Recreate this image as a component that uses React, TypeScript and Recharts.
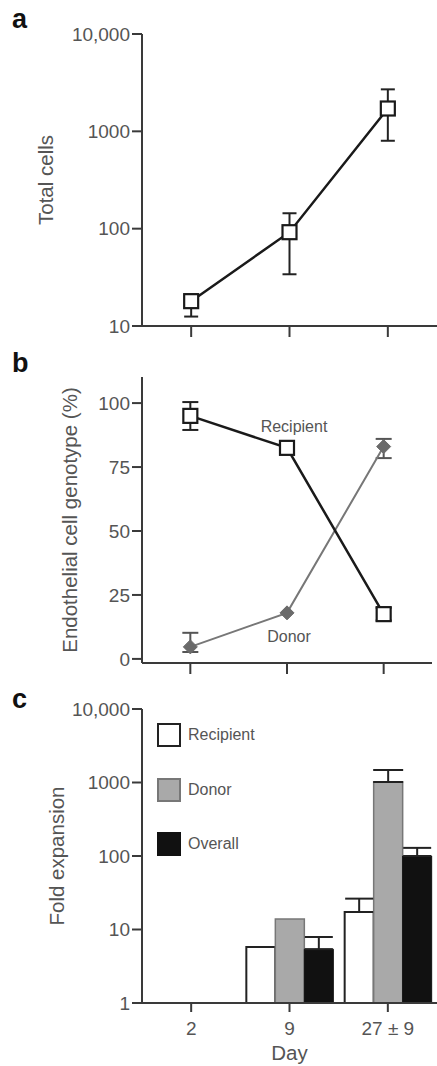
import React from 'react';
import {
  LineChart,
  Line,
  XAxis,
  YAxis,
  ComposedChart,
  Bar,
  ErrorBar,
  LabelList,
  Legend,
} from 'recharts';

// shared x positions (day 2, day 9, day 27 ± 9)
const dayIndex = [0, 1, 2];
const dayLabels = ['2', '9', '27 ± 9'];

// panel a: total cells (log)
const totalCells = [18, 92, 1716];
const totalCellsErr = [[5.5, 3], [58, 52], [916, 984]];
const logTicks = [10, 100, 1000, 10000];

// panel b: endothelial cell genotype (%)
const recipientPct = [95, 82.5, 17.5];
const recipientPctErr = [[5.5, 5.4], null, [2.5, 2.5]];
const donorPct = [4.7, 18, 83];
const donorPctErr = [[2, 5.5], null, [4.5, 3]];
const recipientNote = [null, 'Recipient', null];
const donorNote = [null, 'Donor', null];
const pctTicks = [0, 25, 50, 75, 100];

// panel c: fold expansion (log)
const recipientFold = [1, 5.8, 17.3];
const recipientFoldErr = [null, null, [0, 9]];
const donorFold = [1, 13.9, 1016];
const donorFoldErr = [null, null, [0, 464]];
const overallFold = [1, 5.4, 100];
const overallFoldErr = [null, [0, 2.5], [0, 29]];
const foldTicks = [1, 10, 100, 1000, 10000];
const legendNames = ['Recipient', 'Donor', 'Overall'];

const FONT = '"Liberation Sans", Arial, Helvetica, sans-serif';
const AXIS = '#3a3a3a';
const TEXT = '#555';
const tickStyle = { fontSize: 19, fill: TEXT, fontFamily: FONT };
const axisLabelStyle = { fontSize: 20.5, fill: TEXT, fontFamily: FONT, textAnchor: 'middle' as const };

const fmtLog = (v: number) => (v === 10000 ? '10,000' : String(v));

const dataA = dayIndex.map((x, i) => ({ x, total: totalCells[i], err: totalCellsErr[i] }));
const dataB = dayIndex.map((x, i) => ({
  x,
  recipient: recipientPct[i],
  recipientErr: recipientPctErr[i],
  donor: donorPct[i],
  donorErr: donorPctErr[i],
  recipientNote: recipientNote[i],
  donorNote: donorNote[i],
}));
const dataC = dayLabels.map((day, i) => ({
  day,
  recipient: recipientFold[i],
  recipientErr: recipientFoldErr[i],
  donor: donorFold[i],
  donorErr: donorFoldErr[i],
  overall: overallFold[i],
  overallErr: overallFoldErr[i],
}));

const squareDot = (stroke: string) => (props: any) => {
  const { cx, cy, index } = props;
  return (
    <rect key={`sq-${index}`} x={cx - 7} y={cy - 7} width={14} height={14}
      fill="#fff" stroke={stroke} strokeWidth={2.2} />
  );
};

const diamondDot = (props: any) => {
  const { cx, cy, index } = props;
  return (
    <polygon key={`dm-${index}`}
      points={`${cx},${cy - 7} ${cx + 7},${cy} ${cx},${cy + 7} ${cx - 7},${cy}`}
      fill="#6a6a6a" stroke="#6a6a6a" strokeWidth={1} />
  );
};

const note = (dy: number, dx: number) => (props: any) => {
  const { x, y, value } = props;
  if (!value) return null;
  return (
    <text x={x + dx} y={y + dy} textAnchor="middle" fontSize={16} fill={TEXT} fontFamily={FONT}>
      {value}
    </text>
  );
};

const fillFor: Record<string, string> = { Recipient: '#fff', Donor: '#a9a9a9', Overall: '#111' };
const strokeFor: Record<string, string> = { Recipient: '#222', Donor: '#777', Overall: '#111' };

const FoldLegend = () => (
  <div style={{ fontFamily: FONT }}>
    {legendNames.map(name => (
      <div key={name} style={{ display: 'flex', alignItems: 'center', height: 24, marginBottom: 30.5 }}>
        <span style={{
          width: 20, height: 20, background: fillFor[name],
          border: `2px solid ${strokeFor[name]}`, display: 'inline-block',
        }} />
        <span style={{ marginLeft: 7, fontSize: 16, color: TEXT }}>{name}</span>
      </div>
    ))}
  </div>
);

const PanelLetter = ({ ch, top }: { ch: string; top: number }) => (
  <div style={{
    position: 'absolute', left: 12, top, fontSize: 27, fontWeight: 'bold',
    fontFamily: FONT, color: '#111', lineHeight: 1,
  }}>{ch}</div>
);

export default function App() {
  return (
    <div style={{ position: 'absolute', left: 0, top: 0, width: 437, height: 1066, background: '#fff' }}>
      <PanelLetter ch="a" top={6} />
      <PanelLetter ch="b" top={350} />
      <PanelLetter ch="c" top={686} />

      {/* a */}
      <div style={{ position: 'absolute', left: 0, top: 0 }}>
        <LineChart width={437} height={345} data={dataA} margin={{ top: 34, right: 0, bottom: 0, left: 0 }}>
          <XAxis dataKey="x" type="number" domain={[-0.5, 2.5]} ticks={dayIndex}
            height={19} tickSize={11} tickFormatter={() => ''}
            axisLine={{ stroke: AXIS, strokeWidth: 2 }} tickLine={{ stroke: AXIS, strokeWidth: 2 }} />
          <YAxis scale="log" domain={[10, 10000]} ticks={logTicks} allowDataOverflow width={142}
            tickFormatter={fmtLog} tick={tickStyle} tickSize={10} tickMargin={2}
            axisLine={{ stroke: AXIS, strokeWidth: 2 }} tickLine={{ stroke: AXIS, strokeWidth: 2 }}
            label={{ value: 'Total cells', angle: -90, position: 'insideLeft', offset: 46, style: axisLabelStyle }} />
          <Line dataKey="total" stroke="#1a1a1a" strokeWidth={2.5} dot={squareDot('#1a1a1a')}
            isAnimationActive={false}>
            <ErrorBar dataKey="err" width={7} stroke="#222" strokeWidth={2} />
          </Line>
        </LineChart>
      </div>

      {/* b */}
      <div style={{ position: 'absolute', left: 0, top: 340 }}>
        <LineChart width={437} height={345} data={dataB} margin={{ top: 37, right: 5, bottom: 0, left: 0 }}>
          <XAxis dataKey="x" type="number" domain={[-0.5, 2.5]} ticks={dayIndex}
            height={22} tickSize={11} tickFormatter={() => ''}
            axisLine={{ stroke: AXIS, strokeWidth: 2 }} tickLine={{ stroke: AXIS, strokeWidth: 2 }} />
          <YAxis domain={[-1.6, 110.2]} ticks={pctTicks} allowDataOverflow width={142}
            tick={tickStyle} tickSize={10} tickMargin={2}
            axisLine={{ stroke: AXIS, strokeWidth: 2 }} tickLine={{ stroke: AXIS, strokeWidth: 2 }}
            label={{ value: 'Endothelial cell genotype (%)', angle: -90, position: 'insideLeft', offset: 70, style: axisLabelStyle }} />
          <Line dataKey="donor" stroke="#777" strokeWidth={2} dot={diamondDot} isAnimationActive={false}>
            <ErrorBar dataKey="donorErr" width={8} stroke="#555" strokeWidth={2} />
            <LabelList dataKey="donorNote" content={note(29, 2)} />
          </Line>
          <Line dataKey="recipient" stroke="#1a1a1a" strokeWidth={2.5} dot={squareDot('#1a1a1a')}
            isAnimationActive={false}>
            <ErrorBar dataKey="recipientErr" width={8} stroke="#222" strokeWidth={2} />
            <LabelList dataKey="recipientNote" content={note(-16, 7)} />
          </Line>
        </LineChart>
      </div>

      {/* c */}
      <div style={{ position: 'absolute', left: 0, top: 680 }}>
        <ComposedChart width={437} height={386} data={dataC} barCategoryGap={6} barGap={0}
          margin={{ top: 29, right: 0, bottom: 0, left: 0 }}>
          <XAxis dataKey="day" height={63} tickSize={9} tickMargin={10} tick={tickStyle}
            axisLine={{ stroke: AXIS, strokeWidth: 2 }} tickLine={{ stroke: AXIS, strokeWidth: 2 }}
            label={{ value: 'Day', position: 'insideBottom', offset: 6, style: axisLabelStyle }} />
          <YAxis scale="log" domain={[1, 10000]} ticks={foldTicks} allowDataOverflow width={142}
            tickFormatter={fmtLog} tick={tickStyle} tickSize={10} tickMargin={2}
            axisLine={{ stroke: AXIS, strokeWidth: 2 }} tickLine={{ stroke: AXIS, strokeWidth: 2 }}
            label={{ value: 'Fold expansion', angle: -90, position: 'insideLeft', offset: 57, style: axisLabelStyle }} />
          <Legend layout="vertical" align="center" verticalAlign="middle"
            wrapperStyle={{ left: 157, top: 43, width: 140 }} content={() => <FoldLegend />} />
          <Bar dataKey="recipient" name="Recipient" fill="#fff" stroke="#222" strokeWidth={2} isAnimationActive={false}>
            <ErrorBar dataKey="recipientErr" width={14} stroke="#222" strokeWidth={2} />
          </Bar>
          <Bar dataKey="donor" name="Donor" fill="#a9a9a9" stroke="#777" strokeWidth={1.5} isAnimationActive={false}>
            <ErrorBar dataKey="donorErr" width={15} stroke="#222" strokeWidth={2} />
          </Bar>
          <Bar dataKey="overall" name="Overall" fill="#111" stroke="#111" strokeWidth={1} isAnimationActive={false}>
            <ErrorBar dataKey="overallErr" width={14} stroke="#222" strokeWidth={2} />
          </Bar>
        </ComposedChart>
      </div>
    </div>
  );
}
